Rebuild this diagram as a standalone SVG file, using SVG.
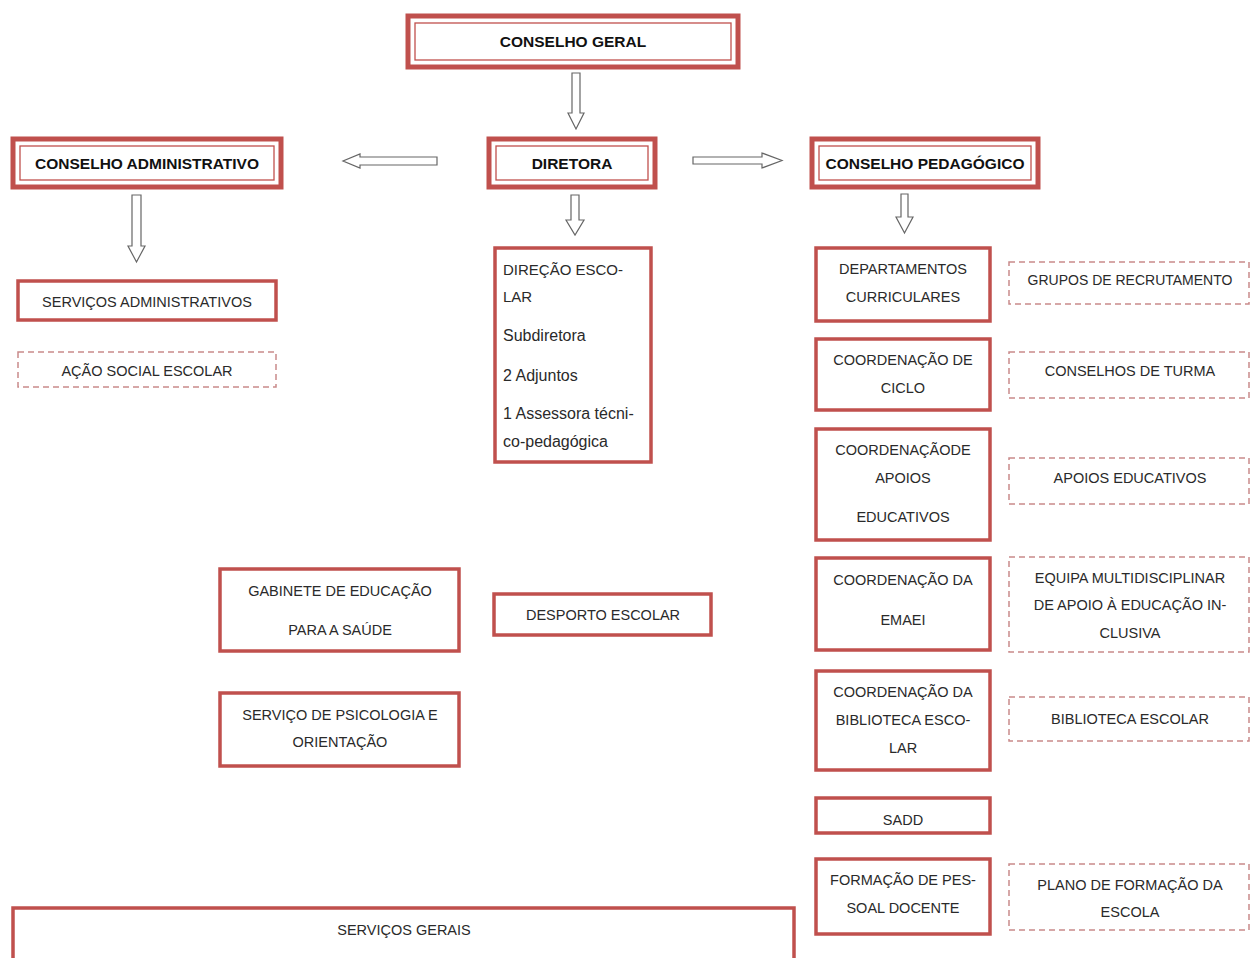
<svg xmlns="http://www.w3.org/2000/svg" width="1251" height="958" viewBox="0 0 1251 958">
<defs>
<style>
.dbl{fill:#fff;stroke:#c0504d;stroke-width:5}
.inn{fill:none;stroke:#c0504d;stroke-width:1.3}
.box{fill:#fff;stroke:#c0504d;stroke-width:3.5}
.dash{fill:#fff;stroke:#c98a8a;stroke-width:1.5;stroke-dasharray:6 4}
.arr{fill:#fff;stroke:#666;stroke-width:1.2}
text{font-family:"Liberation Sans",Arial,sans-serif;font-size:14.5px;fill:#2a2a2a}
.b{font-weight:bold;fill:#111;font-size:15.5px}
.c{text-anchor:middle}
.l{font-size:16px}
</style>
</defs>
<rect width="1251" height="958" fill="#fff"/>
<g id="connectors">
<path class="arr" d="M572,73 H580 V113 H584 L576,129 L568,113 H572 Z"/>
<path class="arr" d="M437,157 V165 H360 V168 L343,161 L360,154 V157 Z"/>
<path class="arr" d="M693,157 V164 H762 V168 L782,160.5 L762,153 V157 Z"/>
<path class="arr" d="M132,195 H141 V246 H145 L136.5,262 L128,246 H132 Z"/>
<path class="arr" d="M571,195 H579 V220 H584 L575,235 L566,220 H571 Z"/>
<path class="arr" d="M901,194 H908 V217 H913 L904.5,233 L896,217 H901 Z"/>
</g>
<g id="conselho-geral">
<rect class="dbl" x="408" y="16" width="330" height="51"/>
<rect class="inn" x="415" y="23" width="316" height="37"/>
<text class="b c" x="573" y="47">CONSELHO GERAL</text>
</g>
<g id="conselho-administrativo">
<rect class="dbl" x="13" y="139" width="268" height="48"/>
<rect class="inn" x="20" y="146" width="254" height="34"/>
<text class="b c" x="147" y="169">CONSELHO ADMINISTRATIVO</text>
</g>
<g id="diretora">
<rect class="dbl" x="489" y="139" width="166" height="48"/>
<rect class="inn" x="496" y="146" width="152" height="34"/>
<text class="b c" x="572" y="169">DIRETORA</text>
</g>
<g id="conselho-pedagogico">
<rect class="dbl" x="812" y="139" width="226" height="48"/>
<rect class="inn" x="819" y="146" width="212" height="34"/>
<text class="b c" x="925" y="169">CONSELHO PEDAGÓGICO</text>
</g>
<g id="servicos-administrativos">
<rect class="box" x="18" y="281" width="258" height="39"/>
<text class="c" x="147" y="307">SERVIÇOS ADMINISTRATIVOS</text>
</g>
<g id="acao-social-escolar">
<rect class="dash" x="18" y="352" width="258" height="35"/>
<text class="c" x="147" y="376">AÇÃO SOCIAL ESCOLAR</text>
</g>
<g id="direcao-escolar">
<rect class="box" x="495" y="248" width="156" height="214"/>
<text x="503" y="275" style="font-size:15px">DIREÇÃO ESCO-</text>
<text x="503" y="302" style="font-size:15px">LAR</text>
<text class="l" x="503" y="341">Subdiretora</text>
<text class="l" x="503" y="381">2 Adjuntos</text>
<text class="l" x="503" y="419">1 Assessora técni-</text>
<text class="l" x="503" y="447">co-pedagógica</text>
</g>
<g id="departamentos-curriculares">
<rect class="box" x="816" y="248" width="174" height="73"/>
<text class="c" x="903" y="274">DEPARTAMENTOS</text>
<text class="c" x="903" y="302">CURRICULARES</text>
</g>
<g id="coordenacao-ciclo">
<rect class="box" x="816" y="339" width="174" height="71"/>
<text class="c" x="903" y="365">COORDENAÇÃO DE</text>
<text class="c" x="903" y="393">CICLO</text>
</g>
<g id="coordenacao-apoios">
<rect class="box" x="816" y="429" width="174" height="111"/>
<text class="c" x="903" y="455">COORDENAÇÃODE</text>
<text class="c" x="903" y="483">APOIOS</text>
<text class="c" x="903" y="522">EDUCATIVOS</text>
</g>
<g id="coordenacao-emaei">
<rect class="box" x="816" y="558" width="174" height="92"/>
<text class="c" x="903" y="585">COORDENAÇÃO DA</text>
<text class="c" x="903" y="625">EMAEI</text>
</g>
<g id="coordenacao-biblioteca">
<rect class="box" x="816" y="671" width="174" height="99"/>
<text class="c" x="903" y="697">COORDENAÇÃO DA</text>
<text class="c" x="903" y="725">BIBLIOTECA ESCO-</text>
<text class="c" x="903" y="753">LAR</text>
</g>
<g id="sadd">
<rect class="box" x="816" y="798" width="174" height="35"/>
<text class="c" x="903" y="825">SADD</text>
</g>
<g id="formacao-pessoal">
<rect class="box" x="816" y="859" width="174" height="75"/>
<text class="c" x="903" y="885">FORMAÇÃO DE PES-</text>
<text class="c" x="903" y="913">SOAL DOCENTE</text>
</g>
<g id="grupos-recrutamento">
<rect class="dash" x="1009" y="262" width="240" height="42"/>
<text class="c" x="1130" y="285" style="font-size:14px">GRUPOS DE RECRUTAMENTO</text>
</g>
<g id="conselhos-turma">
<rect class="dash" x="1009" y="352" width="240" height="46"/>
<text class="c" x="1130" y="376">CONSELHOS DE TURMA</text>
</g>
<g id="apoios-educativos">
<rect class="dash" x="1009" y="458" width="240" height="46"/>
<text class="c" x="1130" y="483">APOIOS EDUCATIVOS</text>
</g>
<g id="equipa-multidisciplinar">
<rect class="dash" x="1009" y="557" width="240" height="95"/>
<text class="c" x="1130" y="583">EQUIPA MULTIDISCIPLINAR</text>
<text class="c" x="1130" y="610">DE APOIO À EDUCAÇÃO IN-</text>
<text class="c" x="1130" y="638">CLUSIVA</text>
</g>
<g id="biblioteca-escolar">
<rect class="dash" x="1009" y="697" width="240" height="44"/>
<text class="c" x="1130" y="724">BIBLIOTECA ESCOLAR</text>
</g>
<g id="plano-formacao">
<rect class="dash" x="1009" y="864" width="240" height="66"/>
<text class="c" x="1130" y="890">PLANO DE FORMAÇÃO DA</text>
<text class="c" x="1130" y="917">ESCOLA</text>
</g>
<g id="gabinete-saude">
<rect class="box" x="220" y="569" width="239" height="82"/>
<text class="c" x="340" y="596">GABINETE  DE EDUCAÇÃO</text>
<text class="c" x="340" y="635">PARA A SAÚDE</text>
</g>
<g id="desporto-escolar">
<rect class="box" x="494" y="594" width="217" height="41"/>
<text class="c" x="603" y="620">DESPORTO ESCOLAR</text>
</g>
<g id="servico-psicologia">
<rect class="box" x="220" y="693" width="239" height="73"/>
<text class="c" x="340" y="720">SERVIÇO DE PSICOLOGIA  E</text>
<text class="c" x="340" y="747">ORIENTAÇÃO</text>
</g>
<g id="servicos-gerais">
<rect class="box" x="13" y="908" width="781" height="56"/>
<text class="c" x="404" y="935">SERVIÇOS GERAIS</text>
</g>
</svg>
